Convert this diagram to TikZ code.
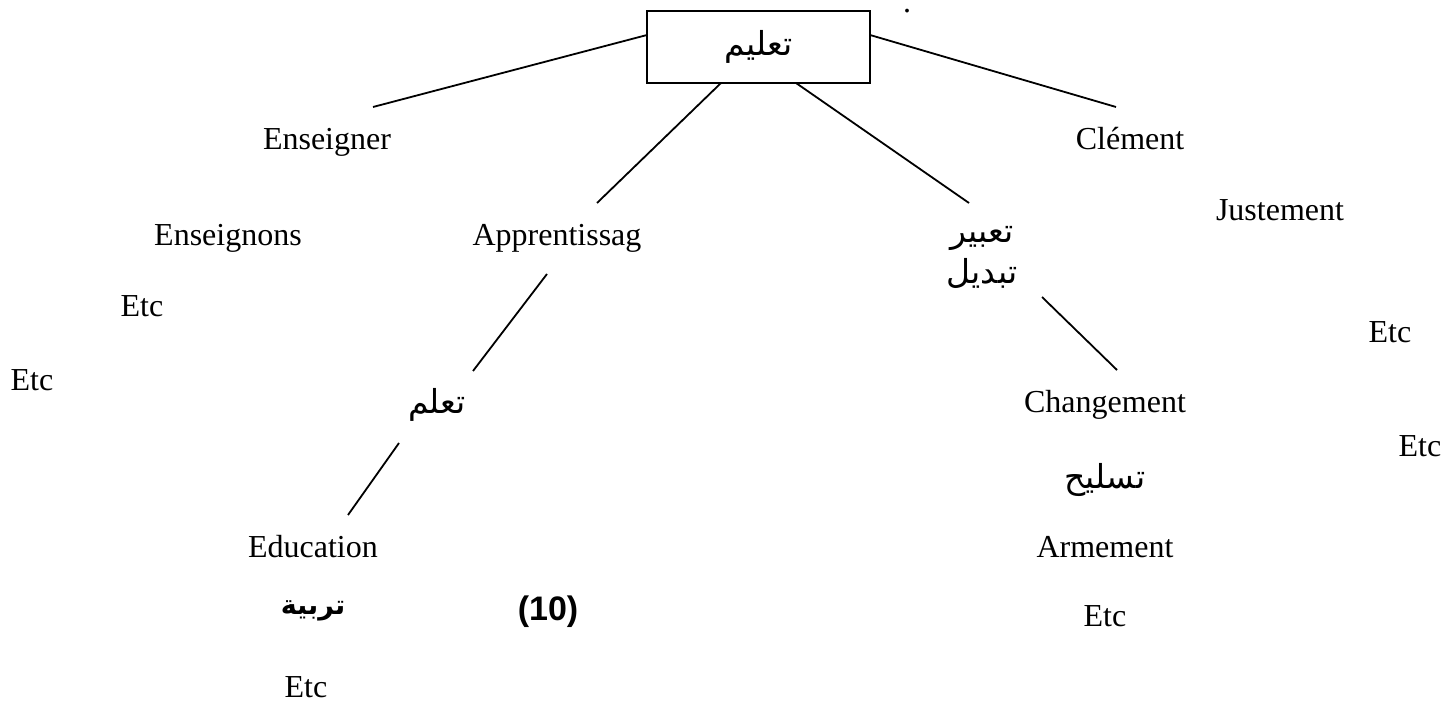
\documentclass[tikz,border=0pt]{standalone}
\usepackage{fontspec}
\setmainfont{Liberation Serif}
\newfontfamily\arabicfont[Script=Arabic]{DejaVu Sans}
\newfontfamily\numfont{Liberation Sans}
\TeXXeTstate=1
\usetikzlibrary{positioning}
\tikzset{
word/.style={ % Latin words, set on their baseline
anchor=base,
inner sep=0pt,
font=\fontsize{16}{19}\selectfont},
arword/.style={ % Arabic words
inner sep=0pt,
font=\arabicfont\fontsize{16.5}{20}\selectfont},
rootbox/.style={ % Box round the head word
draw, line width=1pt,
minimum width=111.5pt, minimum height=36pt},
every edge/.style={ % Plain lines, no arrow heads
draw, line width=0.9pt}}

\begin{document}
\begin{tikzpicture}[x=0.5pt, y=-0.5pt]
    \useasboundingbox (0,0) rectangle (1456,704);

    % head word
    \node[rootbox, arword] (taalim) at (758.5,47) {\beginR تعليم\endR};
    \node[word] (dot) at (907,13) {.};

    % first row
    \node[word] (enseigner) at (327,150) {Enseigner};
    \node[word] (clement) at (1130,150) {Clément};
    \node[word] (justement) at (1280,221) {Justement};
    \node[word] (enseignons) at (228,246) {Enseignons};
    \node[word] (apprent) at (557,246) {Apprentissag};
    \node[arword] (tabir) at (982,238) {\beginR تعبير\endR};
    \node[arword] (tabdil) at (982,273) {\beginR تبديل\endR};

    \node[word] (etc1) at (142,317) {Etc};
    \node[word] (etc2) at (1390,343) {Etc};
    \node[word] (etc3) at (32,391) {Etc};

    % second row
    \node[arword] (taallum) at (437,405) {\beginR تعلم\endR};
    \node[word] (changement) at (1105,413) {Changement};
    \node[word] (etc4) at (1420,457) {Etc};
    \node[arword] (tasleeh) at (1105,480) {\beginR تسليح\endR};

    % third row
    \node[word] (education) at (313,558) {Education};
    \node[word] (armement) at (1105,558) {Armement};
    \node[word, font=\numfont\bfseries\fontsize{17}{20}\selectfont] (num) at (548,621) {(10)};
    \node[arword, font=\arabicfont\bfseries\fontsize{13.5}{17}\selectfont] (tarbiya) at (313,611) {\beginR تربية\endR};
    \node[word] (etc5) at (1105,627) {Etc};
    \node[word] (etc6) at (306,698) {Etc};

    \draw ([shift={(-111.5,-12)}]taalim.center) edge ([shift={(46,-43)}]enseigner.base);
    \draw ([shift={(111.5,-12)}]taalim.center) edge ([shift={(-14,-43)}]clement.base);
    \draw ([shift={(-37.5,36)}]taalim.center) edge ([shift={(40,-43)}]apprent.base);
    \draw ([shift={(37.5,36)}]taalim.center) edge ([shift={(-13,-35)}]tabir.center);

    \draw ([shift={(-10,28)}]apprent.base) edge ([shift={(36,-34)}]taallum.center);
    \draw ([shift={(-38,38)}]taallum.center) edge ([shift={(35,-43)}]education.base);
    \draw ([shift={(60,24)}]tabdil.center) edge ([shift={(12,-43)}]changement.base);

\end{tikzpicture}
\end{document}
